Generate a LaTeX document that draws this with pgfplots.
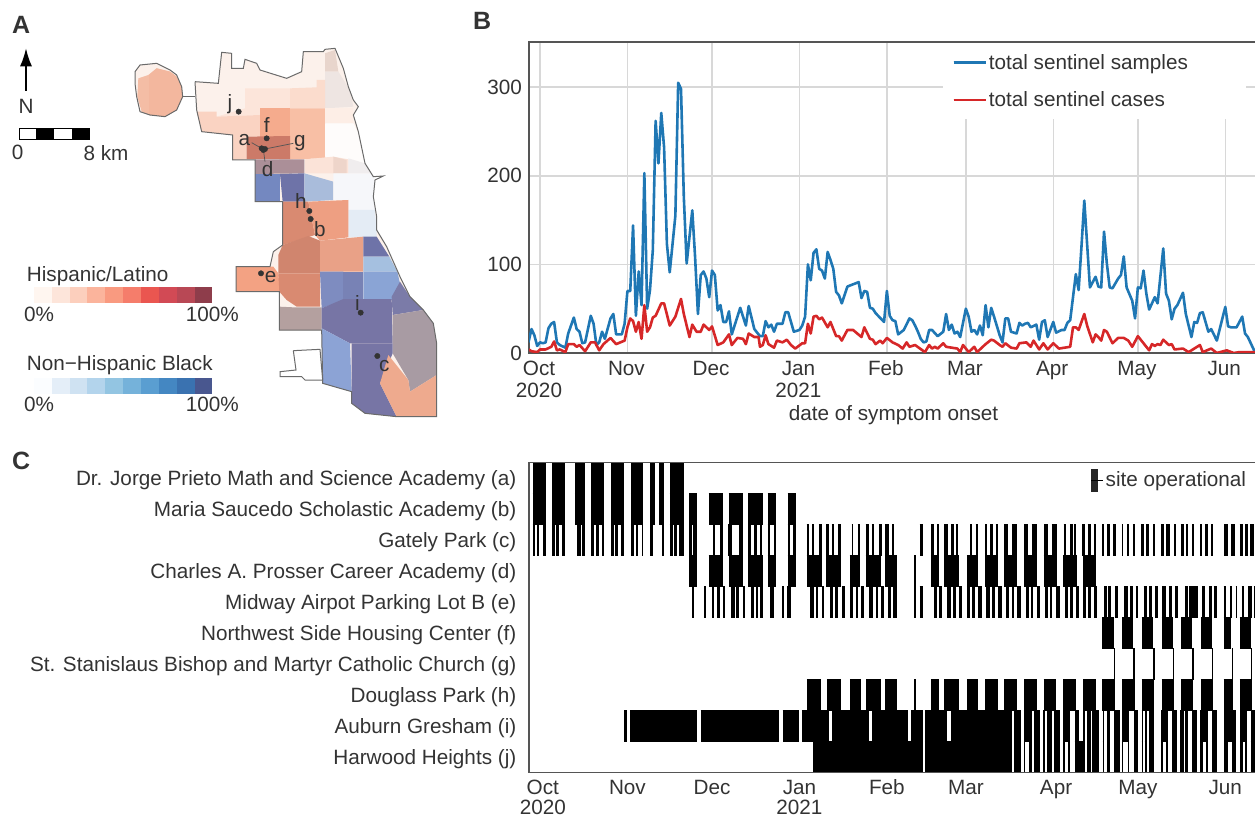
\documentclass[border=0pt]{standalone}
\usepackage{fontspec}
\setmainfont{Liberation Sans}
\usepackage{pgfplots}
\pgfplotsset{compat=1.18}
\usetikzlibrary{arrows.meta}
\newcommand\hx[1]{\definecolor{h#1}{HTML}{#1}}
\hx{FCF1EB}\hx{E8D5CC}\hx{EEE5E2}\hx{FCE5DA}\hx{FBDCCD}\hx{FAD3C2}\hx{F5AB8D}\hx{F8BFA5}\hx{CC7A68}
\hx{FDEEE6}\hx{FEFCFB}\hx{AB8F98}\hx{FBE3D8}\hx{EED5CA}\hx{F0EDEE}\hx{7488C0}\hx{6E73A8}\hx{A9BCDB}
\hx{F6F7FA}\hx{E4ECF5}\hx{D98A71}\hx{EE9F82}\hx{D0856E}\hx{E9A187}\hx{F3A283}\hx{B4A09F}\hx{A5C0E0}
\hx{7E8CC0}\hx{7882B5}\hx{8AA4D5}\hx{7B7BA8}\hx{7775A5}\hx{A89BA3}\hx{8CA3D5}\hx{EEAA8E}\hx{F4BDA5}\hx{F3B79E}
\hx{FFF6F0}\hx{FDE5DA}\hx{FCCFBD}\hx{FBB49C}\hx{F99A80}\hx{F57D6B}\hx{EA5650}\hx{D24A55}\hx{B84855}\hx{8E3D4B}
\hx{FBFDFF}\hx{E4EEF8}\hx{CFE2F2}\hx{B3D4EC}\hx{93C5E2}\hx{75B2DA}\hx{5A9ED1}\hx{4487C2}\hx{3A72B0}\hx{49578F}
\hx{FFFFFF}\hx{000000}
\definecolor{txt}{HTML}{333333}
\definecolor{spine}{HTML}{555555}
\definecolor{mapline}{HTML}{6A6A6A}
\definecolor{gridc}{HTML}{D8D8D8}
\definecolor{blueL}{HTML}{1F77B4}
\definecolor{redL}{HTML}{D62728}
\newcommand\fnt{\fontsize{20.7}{22.5}\selectfont}
\newcommand\st{\rule{0pt}{16pt}}
\newcommand\reg[2]{\addplot[fill=h#1,draw=none,forget plot] coordinates {#2};}
\newcommand\seg[5]{\addplot[fill=h#1,draw=none,forget plot] coordinates {(#2,#4)(#3,#4)(#3,#5)(#2,#5)};}
\newcommand\mt[3]{\node[text=txt,inner sep=0,font=\fnt,#3] at (axis cs:#1) {#2};}
% each interval of a site's operation is one thick segment of its row
\makeatletter
\def\sitebuild(#1,1)(#2,0){\edef\accm{\accm(#1,\siteR)(#2,\siteR)(nan,nan)}\futurelet\nxtok\sitenext}
\def\sitenext{\ifx\nxtok\relax\let\nxcmd\sitestop\else\let\nxcmd\sitebuild\fi\nxcmd}
\def\sitestop\relax{}
\newcommand\site[3]{\def\siteR{#1}\def\accm{}\sitebuild#3\relax
  \edef\sitecmd{\noexpand\addplot[draw=black,line width=31.2pt,line cap=butt,unbounded coords=jump,forget plot] coordinates {\accm};}\sitecmd}
\makeatother
\begin{document}
\begin{tikzpicture}[x=1pt,y=1pt]
\path[use as bounding box] (0,0) rectangle (1255,817);
% panel letters
\node[anchor=base west,inner sep=0,text=txt,font=\fontsize{25}{25}\selectfont\bfseries] at (12,783) {A};
\node[anchor=base west,inner sep=0,text=txt,font=\fontsize{25}{25}\selectfont\bfseries] at (473,787) {B};
\node[anchor=base west,inner sep=0,text=txt,font=\fontsize{25}{25}\selectfont\bfseries] at (12,347) {C};

% ---------- Panel A: map ----------
\begin{axis}[at={(0pt,387pt)},anchor=south west,scale only axis,width=460pt,height=430pt,
  xmin=0,xmax=1380,ymin=0,ymax=1290,y dir=reverse,hide axis,clip=false]
% O'Hare
\reg{FCF1EB}{(405,215)(420,195)(470,190)(510,210)(530,225)(545,260)(548,290)(530,330)(495,350)(450,345)(420,335)(410,290)(405,250)}
\reg{F4BDA5}{(415,235)(445,225)(470,205)(510,215)(530,230)(545,260)(548,290)(530,330)(495,350)(450,345)(425,335)(412,290)}
\reg{F3B79E}{(447,225)(470,205)(510,215)(530,230)(545,260)(548,290)(530,330)(495,350)(447,345)}
\addplot[draw=mapline,line width=1pt,forget plot] coordinates {(405,215)(420,195)(470,190)(510,210)(530,225)(545,260)(548,290)(530,330)(495,350)(450,345)(420,335)(410,290)(405,250)(405,215)};
\addplot[draw=mapline,line width=1pt,forget plot] coordinates {(548,290)(585,290)};
% whole city base
\reg{FCF1EB}{(585,245)(655,250)(665,157)(695,160)(695,205)(730,205)(735,178)(770,190)(780,210)(860,235)(905,215)(910,155)(970,155)(975,148)(1005,145)(1030,205)(1045,260)(1060,300)(1075,320)(1060,345)(1075,395)(1095,490)(1120,530)(1125,540)(1120,590)(1130,650)(1130,690)(1160,740)(1200,830)(1230,890)(1270,930)(1300,970)(1310,1030)(1310,1250)(1190,1250)(1095,1240)(1055,1210)(1055,1175)(968,1150)(965,990)(838,990)(838,875)(708,875)(708,800)(810,800)(820,755)(848,735)(848,605)(765,605)(765,480)(698,480)(698,405)(605,395)(590,330)}
% north
\reg{E8D5CC}{(975,160)(1005,150)(1015,215)(975,215)}
\reg{EEE5E2}{(975,215)(1015,215)(1050,270)(1060,320)(975,325)}
\reg{FCE5DA}{(735,265)(870,265)(870,325)(780,325)(780,345)(650,350)(735,325)}
\reg{FBDCCD}{(870,265)(950,262)(950,240)(975,240)(975,325)(870,325)}
\reg{FAD3C2}{(590,335)(650,335)(650,350)(780,345)(780,410)(740,410)(740,477)(698,480)(698,405)(605,395)}
\reg{F5AB8D}{(780,325)(870,325)(870,410)(780,410)}
\reg{F8BFA5}{(870,325)(975,325)(975,475)(870,478)}
\reg{CC7A68}{(740,410)(870,408)(870,478)(740,477)}
\reg{FDEEE6}{(975,325)(1060,325)(1060,370)(975,370)}
\reg{FEFCFB}{(975,370)(1060,370)(1075,400)(1095,490)(1095,515)(1045,478)(975,470)}
\reg{AB8F98}{(765,478)(913,478)(913,520)(765,522)}
\reg{FBE3D8}{(915,478)(1000,470)(1045,478)(1045,520)(915,520)}
\reg{EED5CA}{(1000,470)(1040,480)(1040,520)(1000,520)}
\reg{F0EDEE}{(1045,475)(1095,490)(1115,520)(1045,520)}
\reg{7488C0}{(765,522)(840,522)(840,605)(765,605)}
\reg{6E73A8}{(840,522)(913,520)(913,605)(848,605)}
\reg{A9BCDB}{(913,520)(1000,545)(1000,600)(913,605)}
\reg{F6F7FA}{(1000,520)(1115,520)(1125,540)(1120,590)(1125,630)(1045,630)(1045,600)(1000,600)}
\reg{E4ECF5}{(1045,630)(1125,630)(1130,690)(1130,712)(1045,712)}
\reg{D98A71}{(848,605)(925,605)(945,705)(848,735)}
\reg{EE9F82}{(925,605)(1045,600)(1045,712)(960,722)(945,705)}
\reg{D0856E}{(848,735)(925,708)(960,722)(960,820)(835,820)(835,765)}
\reg{E9A187}{(960,722)(1090,710)(1090,815)(960,815)}
\reg{F3A283}{(708,800)(820,800)(835,820)(840,875)(708,875)}
\reg{D98A71}{(835,820)(960,820)(960,920)(890,920)(860,900)(838,875)}
\reg{B4A09F}{(838,920)(880,922)(965,922)(965,990)(838,990)}
\reg{6E73A8}{(1090,710)(1130,710)(1168,770)(1090,770)}
\reg{A5C0E0}{(1090,770)(1168,770)(1192,815)(1090,815)}
\reg{7E8CC0}{(960,815)(1030,815)(1030,900)(965,925)}
\reg{7882B5}{(1030,815)(1090,815)(1090,900)(1030,900)}
\reg{8AA4D5}{(1090,815)(1192,815)(1200,850)(1175,900)(1090,900)}
\reg{7B7BA8}{(1200,845)(1230,890)(1270,930)(1178,945)(1175,890)}
\reg{7775A5}{(965,925)(1030,897)(1175,897)(1178,1030)(1050,1030)(965,985)}
\reg{A89BA3}{(1178,945)(1270,930)(1300,970)(1310,1030)(1310,1125)(1230,1175)(1225,1140)(1178,1060)}
\reg{8CA3D5}{(965,985)(1050,1030)(1055,1175)(968,1150)}
\reg{7775A5}{(1055,1030)(1178,1030)(1178,1060)(1140,1150)(1190,1250)(1095,1240)(1055,1210)}
\reg{EEAA8E}{(1165,1065)(1225,1140)(1230,1175)(1310,1125)(1310,1250)(1190,1250)(1140,1150)}
% outline
\addplot[draw=mapline,line width=1pt,forget plot] coordinates {(585,245)(655,250)(665,157)(695,160)(695,205)(730,205)(735,178)(770,190)(780,210)(860,235)(905,215)(910,155)(970,155)(975,148)(1005,145)(1030,205)(1045,260)(1060,300)(1075,320)(1060,345)(1075,395)(1095,490)(1120,530)(1150,528)(1125,540)(1120,590)(1130,650)(1130,690)(1160,740)(1200,830)(1230,890)(1270,930)(1300,970)(1310,1030)(1310,1250)(1190,1250)(1095,1240)(1055,1210)(1055,1175)(968,1150)(965,990)(838,990)(838,875)(708,875)(708,800)(810,800)(820,755)(848,735)(848,605)(765,605)(765,480)(698,480)(698,405)(605,395)(590,330)(585,245)};
\addplot[draw=mapline,line width=1pt,fill=white,forget plot] coordinates {(880,1052)(960,1048)(968,1140)(915,1140)(905,1130)(840,1130)(840,1115)(888,1110)(880,1052)};
% connector lines and sites
\addplot[draw=spine,line width=0.7pt,forget plot] coordinates {(755,428)(790,448)};
\addplot[draw=spine,line width=0.7pt,forget plot] coordinates {(880,430)(790,448)};
\addplot[draw=spine,line width=0.7pt,forget plot] coordinates {(795,485)(790,448)};
\addplot[only marks,mark=*,mark size=2.7pt,mark options={fill=txt,draw=txt},forget plot] coordinates {(716,335)(800,415)(785,445)(795,447)(790,450)(928,633)(932,657)(783,820)(1082,938)(1132,1068)};
\mt{690,312}{j}{}\mt{800,375}{f}{}\mt{733,420}{a}{}\mt{900,428}{g}{}\mt{803,508}{d}{}
\mt{903,602}{h}{}\mt{960,688}{b}{}\mt{812,832}{e}{}\mt{1072,908}{i}{}\mt{1153,1098}{c}{}
% north arrow and scale bar
\addplot[draw=black,line width=1.5pt,-{Latex[length=18pt,width=12pt]},forget plot] coordinates {(78,272)(78,145)};
\mt{78,320}{N}{}
\seg{FFFFFF}{57}{108}{385}{417}\seg{000000}{108}{162}{385}{417}\seg{FFFFFF}{162}{215}{385}{417}\seg{000000}{215}{268}{385}{417}
\addplot[draw=black,line width=0.8pt,forget plot] coordinates {(57,385)(268,385)(268,417)(57,417)(57,385)};
\mt{53,458}{0}{}\mt{318,458}{8 km}{}
% colour scales
\mt{80,827}{Hispanic/Latino}{anchor=west}
\seg{FFF6F0}{102}{155}{862}{910}\seg{FDE5DA}{155}{209}{862}{910}\seg{FCCFBD}{209}{262}{862}{910}\seg{FBB49C}{262}{316}{862}{910}\seg{F99A80}{316}{369}{862}{910}
\seg{F57D6B}{369}{423}{862}{910}\seg{EA5650}{423}{477}{862}{910}\seg{D24A55}{477}{530}{862}{910}\seg{B84855}{530}{584}{862}{910}\seg{8E3D4B}{584}{637}{862}{910}
\mt{117,943}{0\%}{}\mt{637,943}{100\%}{}
\mt{80,1095}{Non−Hispanic Black}{anchor=west}
\seg{FBFDFF}{102}{155}{1135}{1183}\seg{E4EEF8}{155}{209}{1135}{1183}\seg{CFE2F2}{209}{262}{1135}{1183}\seg{B3D4EC}{262}{316}{1135}{1183}\seg{93C5E2}{316}{369}{1135}{1183}
\seg{75B2DA}{369}{423}{1135}{1183}\seg{5A9ED1}{423}{477}{1135}{1183}\seg{4487C2}{477}{530}{1135}{1183}\seg{3A72B0}{530}{584}{1135}{1183}\seg{49578F}{584}{637}{1135}{1183}
\mt{117,1213}{0\%}{}\mt{637,1213}{100\%}{}
\end{axis}

% ---------- Panel B ----------
\begin{axis}[at={(529pt,464pt)},anchor=south west,scale only axis,width=729pt,height=311pt,
  xmin=-3.9,xmax=254.6,ymin=0,ymax=351,
  xtick={0,31,61,92,123,151,182,212,243},
  xticklabels={{\st Oct\\2020},\st Nov,\st Dec,{\st Jan\\2021},\st Feb,\st Mar,\st Apr,\st May,\st Jun},
  ytick={0,100,200,300},yticklabels={0,100,200,300},
  xmajorgrids,ymajorgrids,grid style={gridc,line width=1.5pt},
  major tick length=0pt,axis line style={spine,line width=1.3pt},
  xticklabel style={align=center,font=\fnt,text=txt,inner sep=0pt,yshift=-6pt,xshift=-1pt},
  yticklabel style={font=\fnt,text=txt,inner sep=0pt,xshift=-7pt},
  xlabel={date of symptom onset},xlabel style={font=\fnt,text=txt,inner sep=0pt,at={(axis description cs:0.5,0)},anchor=base,yshift=-68pt},
  legend cell align=left,
  legend style={at={(axis description cs:0.568,0.996)},anchor=north west,draw=none,fill=white,font=\fnt,text=txt,
    inner xsep=9pt,inner ysep=9pt,row sep=17pt},
  legend image code/.code={\draw[#1,line width=2.6pt] (0pt,0pt) -- (28pt,0pt);\path (0pt,0pt) -- (32pt,0pt);},
  axis on top=false]
\addplot[blueL,line width=2.6pt,line join=round] coordinates {(-4.1,12)(-3,27)(-2,20)(-1,8)(0,12)(1,11)(2,12)(3,28)(4,33)(5,35)(6,12)(7,9)(9,6)(10,22)(12,40)(13,27)(14,24)(15,11)(16,12)(18,42)(19,33)(20,9)(21,12)(22,24)(23,16)(25,39)(26,44)(27,21)(29,21)(30,33)(31,70)(32,70)(33,144)(34,42)(35,92)(36,54)(37,203)(38,50)(39,71)(40,116)(41,262)(42,214)(43,271)(44,232)(45,123)(46,91)(48,155)(49,305)(50,298)(51,176)(52,101)(54,161)(55,108)(56,44)(57,88)(58,92)(59,84)(60,63)(61,93)(62,88)(63,48)(64,54)(65,35)(66,35)(67,47)(68,21)(71,51)(73,31)(74,53)(76,27)(78,19)(79,19)(80,36)(81,29)(82,32)(83,24)(84,33)(86,33)(87,46)(88,46)(90,24)(92,26)(93,31)(94,41)(95,100)(96,82)(97,113)(98,117)(99,95)(100,93)(101,84)(102,114)(103,105)(104,95)(105,69)(106,65)(107,56)(109,75)(113,80)(114,62)(115,70)(116,69)(117,51)(118,50)(119,45)(122,35)(123,70)(124,42)(125,37)(126,36)(127,21)(129,26)(131,39)(132,37)(133,31)(134,24)(135,16)(136,12)(137,13)(138,26)(139,26)(141,19)(143,24)(144,44)(145,26)(146,32)(147,22)(148,24)(149,18)(151,50)(152,41)(153,24)(154,26)(155,21)(156,31)(157,20)(158,54)(159,29)(160,51)(161,41)(163,20)(164,12)(165,39)(166,39)(167,24)(169,22)(170,34)(171,31)(172,33)(173,34)(174,29)(176,32)(177,15)(178,35)(179,37)(180,18)(182,35)(183,23)(185,26)(186,26)(187,34)(188,37)(190,89)(191,71)(192,120)(193,172)(194,123)(195,74)(197,86)(198,75)(199,74)(200,137)(201,101)(202,74)(203,73)(205,84)(206,88)(207,109)(208,74)(210,59)(211,39)(212,74)(213,73)(214,93)(215,67)(216,49)(218,63)(219,56)(221,118)(222,67)(223,59)(224,38)(225,50)(226,54)(228,68)(229,44)(231,18)(232,35)(233,34)(234,45)(235,46)(237,24)(238,27)(240,14)(243,52)(244,30)(245,29)(246,29)(247,29)(249,41)(250,22)(251,18)(253.5,1)};
\addlegendentry{total sentinel samples\hspace*{47pt}}
\addplot[redL,line width=2.6pt,line join=round] coordinates {(-4,4)(-3,2)(-1,1)(0,4)(2,4)(4,7)(5,13)(6,3)(7,4)(9,1)(10,10)(12,10)(13,7)(14,9)(16,2)(18,12)(19.5,12)(21,3)(22.5,10)(25,17)(27,10)(30,14)(31,29)(32,39)(33,36)(34,24)(35,35)(36,16)(37,54)(38,24)(39,29)(40,40)(41,42)(43,56)(44,56)(46,31)(48,41)(50,61)(51,44)(53,18)(54,32)(55.5,24)(57,24)(58,32)(60,26)(61,30)(63,9)(65,12)(67,21)(68,9)(70,17)(72,16)(73,10)(74,22)(76,18)(77.5,18)(78,7)(79,9)(80,20)(81,10)(83,6)(84,14)(86,12)(87.5,15)(89,9)(90.5,5)(93,11)(94,11)(95,33)(96,22)(97,41)(98,42)(99,38)(100,40)(102,29)(103,35)(105,19)(106,19)(107,14)(109,26)(111,26)(114,18)(115,29)(117,16)(118,15)(119,10)(120.6,14)(121.5,11)(123,17)(125,12)(127,9)(128.6,5)(130,12)(131,7)(133,9)(136.5,1)(138,9)(139,5)(140,7)(141,5)(143,11)(144,7)(148,5)(149,1)(150,9)(152,1)(154,7)(155,1)(157,7)(158,10)(160,15)(161,14)(163,9)(164,7)(165,11)(167,6)(169,5)(170,11)(172.5,12)(174,7)(175,14)(177,4)(178.5,11)(180,4)(182,11)(184,5)(188,7)(189,29)(190,29)(191,26)(193,44)(194,31)(196,12)(197,21)(198,18)(199,14)(200,26)(201,24)(203,11)(205,17)(207,17)(208.6,14)(210,7)(212,19)(214,11)(216,3)(217,10)(218,8)(219,10)(220,9)(221,15)(223,9)(224,10)(225,4)(228,5)(230,1)(232,5)(234,9)(235,1)(238,5)(240,0)(243.5,3)(246,0)(248,1)(253.5,1)};
\addlegendentry{total sentinel cases}
\end{axis}

% ---------- Panel C ----------
\begin{axis}[at={(529pt,44.5pt)},anchor=south west,scale only axis,width=729pt,height=310pt,
  xmin=-3.9,xmax=254.6,ymin=-0.5,ymax=9.5,y dir=reverse,
  xtick={1,31,61,92,123,151,183,212,243},
  xticklabels={{\st Oct\\2020},\st Nov,\st Dec,{\st Jan\\2021},\st Feb,\st Mar,\st Apr,\st May,\st Jun},
  ytick={0,...,9},
  yticklabels={Dr. Jorge Prieto Math and Science Academy (a),Maria Saucedo Scholastic Academy (b),Gately Park (c),Charles A. Prosser Career Academy (d),Midway Airpot Parking Lot B (e),Northwest Side Housing Center (f),St. Stanislaus Bishop and Martyr Catholic Church (g),Douglass Park (h),Auburn Gresham (i),Harwood Heights (j)},
  major tick length=0pt,axis line style={spine,line width=1.3pt},
  xticklabel style={align=center,font=\fontsize{20.7}{19.5}\selectfont,text=txt,inner sep=0pt,yshift=-6pt},
  yticklabel style={font=\fnt,text=txt,inner sep=0pt,xshift=-12.5pt,yshift=-2pt},
  legend style={at={(axis description cs:0.771,0.98)},anchor=north west,draw=none,fill=none,font=\fnt,text=txt,
    inner xsep=0pt,inner ysep=0pt},
  legend image code/.code={\fill[black!85] (0pt,-11pt) rectangle (6pt,11pt);\path (0pt,0pt) -- (12pt,0pt);},
  axis on top]
\addlegendimage{}
\addlegendentry{site operational}
\site{0}{-2.6}{(-2.6,1)(2.0,0)(4.4,1)(9.0,0)(12.4,1)(16.0,0)(18.2,1)(22.8,0)(25.2,1)(29.8,0)(32.2,1)(36.6,0)(39.1,1)(40.8,0)(42.1,1)(44.1,0)(46,1)(51.2,0)}
\site{1}{-2.6}{(-2.6,1)(2.0,0)(4.4,1)(9.0,0)(12.4,1)(16.0,0)(18.2,1)(22.8,0)(25.2,1)(29.8,0)(32.2,1)(36.6,0)(39.1,1)(40.8,0)(42.1,1)(44.1,0)(46,1)(51.2,0)(53.0,1)(55.8,0)(59.8,1)(65.0,0)(66.9,1)(72.1,0)(73.9,1)(79.1,0)(80.7,1)(83.6,0)(87.8,1)(90.7,0)}
\site{2}{-2.6}{(-2.6,1)(-1.7,0)(-0.9,1)(-0.2,0)(0.9,1)(2.0,0)(4.4,1)(5.2,0)(5.8,1)(6.6,0)(7.9,1)(8.9,0)(13,1)(14.5,0)(15,1)(16,0)(18.2,1)(19.1,0)(19.9,1)(21,0)(21.9,1)(22.7,0)(25.2,1)(26.2,0)(26.7,1)(27.7,0)(28.7,1)(29.8,0)(32.2,1)(33.3,0)(33.9,1)(34.8,0)(36,1)(36.6,0)(39.1,1)(40.2,0)(43.1,1)(44.1,0)(46,1)(47,0)(47.6,1)(48.5,0)(49.4,1)(51.1,0)(53,1)(53.9,0)(54.4,1)(55.8,0)(61.4,1)(62,0)(63.8,1)(65,0)(66.8,1)(68,0)(70.7,1)(72.1,0)(73.9,1)(74.8,0)(76,1)(76.8,0)(78,1)(78.8,0)(80.7,1)(81.7,0)(83.1,1)(83.6,0)(87.8,1)(88.8,0)(89.7,1)(90.6,0)(94.5,1)(95.4,0)(96.6,1)(97.3,0)(98.9,1)(99.9,0)(101.5,1)(102.5,0)(103.4,1)(104.4,0)(105.8,1)(106.7,0)(110.5,1)(111.1,0)(112.6,1)(113.6,0)(115.5,1)(116.6,0)(117.6,1)(118.5,0)(120.2,1)(121.1,0)(122.3,1)(123.8,0)(124.9,1)(125.65,0)(134.6,1)(135.7,0)(138.6,1)(139.6,0)(140.7,1)(141.5,0)(143.4,1)(144.6,0)(145.7,1)(146.9,0)(147.4,1)(148.3,0)(152.6,1)(153.3,0)(154.5,1)(155.4,0)(157.8,1)(158.4,0)(159.7,1)(160.6,0)(161.6,1)(162.5,0)(164.7,1)(165.8,0)(167.3,1)(169,0)(171.75,1)(172.9,0)(174.35,1)(176.1,0)(178.8,1)(180,0)(181.4,1)(183.2,0)(185.7,1)(186.6,0)(187.9,1)(189,0)(189.4,1)(190,0)(192.3,1)(193.3,0)(194.2,1)(195.4,0)(196.3,1)(197,0)(199.4,1)(200.1,0)(201.1,1)(202,0)(203.3,1)(204.1,0)(206.3,1)(206.9,0)(208.2,1)(208.9,0)(210.2,1)(211,0)(213.1,1)(214.1,0)(214.9,1)(216,0)(217.5,1)(218.1,0)(220.2,1)(221.2,0)(222.1,1)(223.3,0)(224.9,1)(225.4,0)(227.2,1)(228.5,0)(229,1)(229.9,0)(231.3,1)(232,0)(234.2,1)(234.9,0)(235.8,1)(236.8,0)(238,1)(238.8,0)(242.7,1)(244.1,0)(245,1)(246.5,0)(248.1,1)(249.4,0)(250,1)(251,0)(251.9,1)(253.3,0)}
\site{3}{53}{(53,1)(55.8,0)(59.8,1)(65,0)(66.9,1)(72.1,0)(73.9,1)(79.1,0)(80.7,1)(83.6,0)(87.8,1)(90.7,0)(94.5,1)(99.9,0)(101.5,1)(106.7,0)(109.8,1)(113.5,0)(115.5,1)(120.9,0)(122.3,1)(126.5,0)(132.7,1)(133.2,0)(138.6,1)(141.5,0)(143.4,1)(148.4,0)(151.4,1)(155.2,0)(157.8,1)(162.3,0)(164.7,1)(169.3,0)(171.75,1)(176.2,0)(178.6,1)(183.2,0)(185.6,1)(190.3,0)(192.6,1)(197.1,0)}
\site{4}{54}{(54,1)(54.7,0)(58.3,1)(58.7,0)(61.1,1)(61.8,0)(62.9,1)(63.9,0)(64.9,1)(65.6,0)(67.9,1)(69.1,0)(69.5,1)(70.7,0)(72.1,1)(72.7,0)(74.9,1)(76,0)(76.6,1)(77.4,0)(78,1)(79.2,0)(81.7,1)(83.1,0)(85.9,1)(86.5,0)(87.7,1)(88.9,0)(95.7,1)(97.1,0)(97.7,1)(98.7,0)(99.9,1)(100.8,0)(102.8,1)(104,0)(104.6,1)(105.8,0)(107,1)(108.1,0)(109.9,1)(111.1,0)(111.9,1)(112.9,0)(113.8,1)(114.8,0)(116.8,1)(118.2,0)(119,1)(120,0)(120.9,1)(121.9,0)(123.3,1)(124.5,0)(125.3,1)(126.5,0)(132.7,1)(133.2,0)(134.6,1)(135.7,0)(139.6,1)(140.8,0)(141.5,1)(142.7,0)(144.3,1)(145.6,0)(146.3,1)(147.4,0)(148.5,1)(149.5,0)(151.4,1)(152.6,0)(153.3,1)(154.3,0)(155.4,1)(156.7,0)(158.3,1)(159.5,0)(160.4,1)(161.3,0)(162.3,1)(163.7,0)(165.4,1)(166.3,0)(167.3,1)(168.2,0)(169.3,1)(170.4,0)(172.2,1)(173.4,0)(174.1,1)(174.9,0)(176.2,1)(177.4,0)(179.1,1)(180,0)(181,1)(181.7,0)(183.1,1)(184.5,0)(186.2,1)(187.1,0)(188,1)(189.1,0)(190,1)(191.1,0)(192.7,1)(193.5,0)(194.4,1)(195.4,0)(196.6,1)(197.4,0)(200.1,1)(201.1,0)(201.5,1)(202.5,0)(203.9,1)(205.1,0)(207,1)(208.4,0)(209.2,1)(210.4,0)(211.2,1)(212.2,0)(214,1)(215.1,0)(216,1)(217.1,0)(218.1,1)(219,0)(220.7,1)(221.9,0)(223,1)(224.2,0)(225.2,1)(226.1,0)(228.7,1)(229.7,0)(230.1,1)(233.2,0)(234.9,1)(235.8,0)(237.2,1)(238.2,0)(238.9,1)(240,0)(242.4,1)(243.1,0)(244.7,1)(245.5,0)(246.7,1)(247.2,0)(248.8,1)(249.8,0)(251.2,1)(252.4,0)(253.1,1)(253.6,0)}
\site{5}{199.4}{(199.4,1)(203.4,0)(206.5,1)(210.4,0)(213.3,1)(217.5,0)(220.4,1)(224.3,0)(227.3,1)(231.3,0)(234.3,1)(238.2,0)(242.4,1)(245,0)(248.1,1)(252,0)}
\site{6}{203.4}{(203.4,1)(203.9,0)(210.4,1)(211,0)(217.5,1)(218,0)(224.3,1)(224.9,0)(231.3,1)(231.8,0)(238.2,1)(238.8,0)(245.3,1)(245.9,0)(252,1)(252.5,0)}
\site{7}{94.6}{(94.6,1)(99.8,0)(101.7,1)(106.7,0)(109.9,1)(113.7,0)(115.6,1)(120.8,0)(122.5,1)(126.5,0)(132.7,1)(133.2,0)(138.6,1)(141.5,0)(143.4,1)(148.4,0)(151.4,1)(155.4,0)(157.8,1)(162.3,0)(164.7,1)(169.3,0)(171.75,1)(176.2,0)(178.6,1)(183.1,0)(185.5,1)(190.2,0)(192.6,1)(197.05,0)(199.4,1)(203.9,0)(206.5,1)(211,0)(213.3,1)(217.8,0)(220.4,1)(224.9,0)(227.3,1)(231.7,0)(234.3,1)(238.8,0)(242.4,1)(245.9,0)(248.1,1)(252.5,0)}
\site{8}{29.8}{(29.8,1)(31,0)(32,1)(55.8,0)(57,1)(84.9,0)(86,1)(91.7,0)(92.9,1)(102.6,0)(103.7,1)(116.5,0)(117.7,1)(130.4,0)(131.6,1)(135.7,0)(136.5,1)(144.3,0)(145.6,1)(167.4,0)(168.2,1)(170.45,0)(171.6,1)(174.35,0)(175.3,1)(177.3,0)(178.5,1)(179.1,0)(179.9,1)(181.4,0)(182.3,1)(184.4,0)(185.6,1)(187.9,0)(189.6,1)(191.25,0)(192.7,1)(193.1,0)(194.1,1)(195.3,0)(195.75,1)(198.35,0)(199.5,1)(200,0)(201.2,1)(202.1,0)(203.55,1)(205.7,0)(206.5,1)(209,0)(210.6,1)(212.2,0)(213.35,1)(213.95,0)(214.4,1)(215.1,0)(216,1)(217.85,0)(220.3,1)(222.8,0)(224.2,1)(225.8,0)(227,1)(228.4,0)(228.8,1)(229.9,0)(231.3,1)(232.9,0)(234,1)(237,0)(238.2,1)(240,0)(242.55,1)(246.8,0)(248.2,1)(250.8,0)(252,1)(254.7,0)}
\site{9}{96.9}{(96.9,1)(135.7,0)(136.5,1)(167.4,0)(168.2,1)(170.45,0)(171.6,1)(172.1,0)(173.3,1)(174.35,0)(175.3,1)(177.3,0)(178.5,1)(179.1,0)(179.9,1)(181.4,0)(182.3,1)(184.4,0)(185.6,1)(186.2,0)(187.35,1)(187.9,0)(189.6,1)(193.1,0)(194.1,1)(195.3,0)(195.75,1)(198.35,0)(199.5,1)(200,0)(201.2,1)(202.1,0)(203.55,1)(205.7,0)(206.5,1)(206.85,0)(208.4,1)(209,0)(210.6,1)(212.2,0)(213.35,1)(213.95,0)(214.4,1)(215.1,0)(216,1)(217.85,0)(220.3,1)(221,0)(222,1)(222.8,0)(224.2,1)(225.8,0)(227,1)(228.4,0)(228.8,1)(229.9,0)(231.3,1)(232.9,0)(234,1)(235.2,0)(236.2,1)(237,0)(238.2,1)(240,0)(242.55,1)(244,0)(245.3,1)(246.8,0)(248.2,1)(249.2,0)(250,1)(250.8,0)(252,1)(254.7,0)}
\end{axis}
\end{tikzpicture}
\end{document}
